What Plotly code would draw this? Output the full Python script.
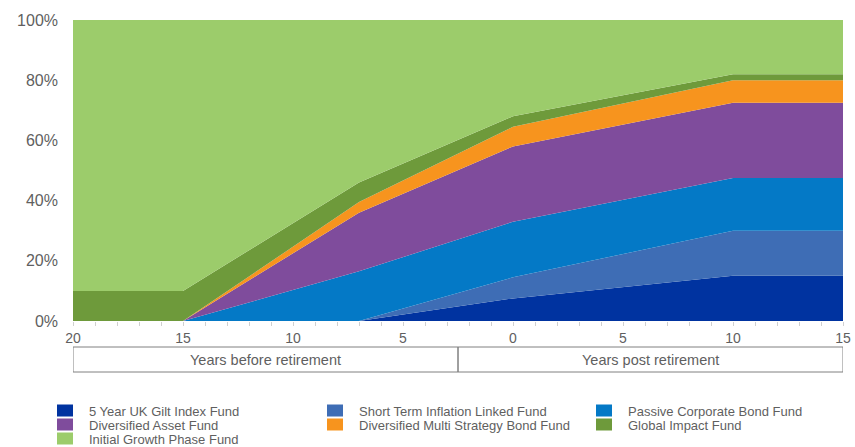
import plotly.graph_objects as go

# glide path: years relative to retirement (negative = before)
years = [-20, -15, -7, 0, 10, 15]
tick_vals = [-20, -15, -10, -5, 0, 5, 10, 15]
tick_text = ['20', '15', '10', '5', '0', '5', '10', '15']
pct_vals = [0, 20, 40, 60, 80, 100]
pct_text = ['0%', '20%', '40%', '60%', '80%', '100%']

# allocation in % of pot, bottom of the stack first
gilt_index = [0, 0, 0, 7.5, 15, 15]
short_term_inflation = [0, 0, 0, 7, 15, 15]
passive_corporate = [0, 0, 16.5, 18.5, 17.5, 17.5]
diversified_asset = [0, 0, 19.5, 25, 25, 25]
multi_strategy_bond = [0, 0, 3.5, 6.5, 7.5, 7.5]
global_impact = [10, 10, 6.5, 3.5, 2, 2]
initial_growth = [90, 90, 54, 32, 18, 18]

fund_names = [
    '5 Year UK Gilt Index Fund',
    'Short Term Inflation Linked Fund',
    'Passive Corporate Bond Fund',
    'Diversified Asset Fund',
    'Diversified Multi Strategy Bond Fund',
    'Global Impact Fund',
    'Initial Growth Phase Fund',
]
fund_values = [gilt_index, short_term_inflation, passive_corporate,
               diversified_asset, multi_strategy_bond, global_impact,
               initial_growth]
fund_colors = ['#0033a0', '#3e6db5', '#0479c6', '#7f4c9c',
               '#f7941e', '#6e9a3b', '#9ccc6b']

phase_labels = ['Years before retirement', 'Years post retirement']
phase_bounds = [-20, -2.5, 15]

W, H = 855, 447
L, R, T, B = 73, 12, 20, 126
PW, PH = W - L - R, H - T - B
FONT = 'Liberation Sans, Arial, sans-serif'
GREY = '#5f5f5f'


def px_x(x):
    return (x - L) / PW


def px_y(y):
    return (H - B - y) / PH


fig = go.Figure()
for name, vals, color in zip(fund_names, fund_values, fund_colors):
    fig.add_trace(go.Scatter(
        x=years, y=vals, name=name, mode='lines',
        stackgroup='one', line=dict(width=0, color=color),
        fillcolor=color, showlegend=False, hoverinfo='x+y+name'
    ))

shapes = []
annotations = []

# phase boxes under the x axis
for i, label in enumerate(phase_labels):
    x0, x1 = phase_bounds[i], phase_bounds[i + 1]
    shapes.append(dict(type='rect', xref='x', yref='paper',
                       x0=x0, x1=x1, y0=px_y(372), y1=px_y(347),
                       line=dict(color='#808080', width=1)))
    annotations.append(dict(xref='x', yref='paper', x=(x0 + x1) / 2,
                            y=px_y(359.5), text=label, showarrow=False,
                            xanchor='center', yanchor='middle',
                            font=dict(family=FONT, size=14.5, color=GREY)))

# hand-placed legend, three columns filled row by row
col_x = [57, 327, 596]
row_y = [410.5, 424.5, 438.5]
for i, (name, color) in enumerate(zip(fund_names, fund_colors)):
    cx = col_x[i % 3]
    cy = row_y[i // 3]
    shapes.append(dict(type='rect', xref='paper', yref='paper',
                       x0=px_x(cx), x1=px_x(cx + 16),
                       y0=px_y(cy + 6), y1=px_y(cy - 6),
                       fillcolor=color, line=dict(width=0)))
    annotations.append(dict(xref='paper', yref='paper', x=px_x(cx + 30),
                            y=px_y(cy + 0.5), text=name, showarrow=False,
                            xanchor='left', yanchor='middle',
                            font=dict(family=FONT, size=13, color=GREY)))

fig.update_layout(
    width=W, height=H,
    margin=dict(l=L, r=R, t=T, b=B),
    paper_bgcolor='white', plot_bgcolor='white',
    showlegend=False,
    shapes=shapes, annotations=annotations,
    font=dict(family=FONT, color=GREY),
    xaxis=dict(range=[-20, 15], tickvals=tick_vals, ticktext=tick_text,
               automargin=False,
               showgrid=False, zeroline=False, showline=False,
               ticks='outside', ticklen=4, tickcolor='#d0d0d0',
               minor=dict(dtick=1, ticks='outside', ticklen=4,
                          tickcolor='#d0d0d0'),
               tickfont=dict(size=14, color=GREY)),
    yaxis=dict(range=[0, 100], tickvals=pct_vals, ticktext=pct_text,
               automargin=False,
               showgrid=False, zeroline=False,
               showline=False, ticklabelstandoff=14,
               tickfont=dict(size=16, color=GREY)),
)

# drop the browser's default 8px page margin so the figure fills the window
fig.write_html('out.html', config={'displayModeBar': False},
               post_script="document.body.style.margin='0';")
